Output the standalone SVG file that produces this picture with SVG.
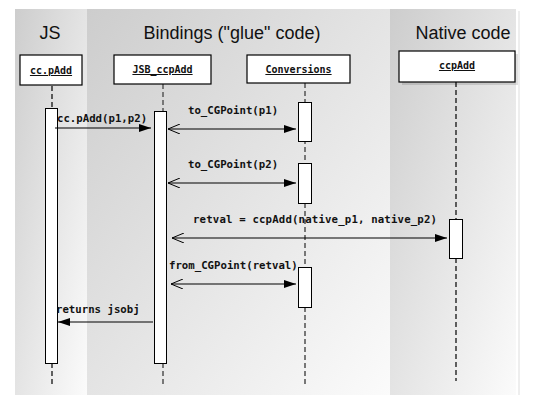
<svg xmlns="http://www.w3.org/2000/svg" width="534" height="404" viewBox="0 0 534 404">
<style>
.title{font-family:"Liberation Sans",Arial,sans-serif;font-size:18px;fill:#111;text-anchor:middle}
.hdr{font-family:"DejaVu Sans Mono",monospace;font-weight:bold;font-size:10px;fill:#111;text-anchor:middle;text-decoration:underline}
.msg{font-family:"DejaVu Sans Mono",monospace;font-weight:bold;font-size:10.7px;fill:#111}
.box{fill:#fff;stroke:#000;stroke-width:1.2}
.act{fill:#fff;stroke:#000;stroke-width:1}
.life{stroke:#000;stroke-width:1.2;stroke-dasharray:5,3;fill:none}
.lifeg{stroke:#777;stroke-width:2;stroke-dasharray:5,3;fill:none}
.line{stroke:#000;stroke-width:1.2;fill:none}
</style>
<defs>
<linearGradient id="g" x1="0" y1="0" x2="1" y2="1">
<stop offset="0" stop-color="#cdcdcd"/>
<stop offset="1" stop-color="#fbfbfb"/>
</linearGradient>
<marker id="fill" viewBox="0 0 12 8" refX="12" refY="4" markerWidth="12" markerHeight="8" markerUnits="userSpaceOnUse" orient="auto">
<path d="M0,0 L12,4 L0,8 Z" fill="#000"/>
</marker>
<marker id="open" viewBox="0 0 12 10" refX="0" refY="5" markerWidth="12" markerHeight="10" markerUnits="userSpaceOnUse" orient="auto">
<path d="M12,0 L0,5 L12,10" fill="none" stroke="#000" stroke-width="1"/>
</marker>
</defs>
<rect width="534" height="404" fill="#fff"/>
<g id="panels">
<rect x="15" y="9" width="72" height="386" fill="url(#g)"/>
<rect x="87" y="9" width="303" height="386" fill="url(#g)"/>
<rect x="518" y="11" width="2" height="384" fill="#eee"/>
<rect x="390" y="9" width="126" height="386" fill="url(#g)"/>
<text class="title" x="50" y="39">JS</text>
<text class="title" x="232" y="39">Bindings ("glue" code)</text>
<text class="title" x="463" y="39">Native code</text>
</g>
<g id="lifelines">
<line class="life" x1="52" y1="86" x2="52" y2="108"/>
<line class="life" x1="52" y1="363" x2="52" y2="386"/>
<line class="lifeg" x1="163" y1="84" x2="163" y2="111"/>
<line class="lifeg" x1="163" y1="363" x2="163" y2="386"/>
<line class="lifeg" x1="305" y1="83" x2="305" y2="384"/>
<line class="life" x1="456" y1="82" x2="456" y2="381"/>
</g>
<g id="ccpAdd_js">
<rect class="box" x="20" y="55" width="62" height="30"/>
<text class="hdr" x="51" y="74">cc.pAdd</text>
<rect class="act" x="45.5" y="108.5" width="12" height="255"/>
</g>
<g id="JSB_ccpAdd">
<rect class="box" x="114" y="55" width="97" height="29"/>
<text class="hdr" x="162.5" y="73">JSB_ccpAdd</text>
<rect class="act" x="154.5" y="111.5" width="12" height="252"/>
</g>
<g id="Conversions">
<rect class="box" x="247" y="55" width="103" height="28"/>
<text class="hdr" x="298.5" y="73">Conversions</text>
<rect class="act" x="298.5" y="102.5" width="13" height="39"/>
<rect class="act" x="298.5" y="163.5" width="13" height="40"/>
<rect class="act" x="298.5" y="267.5" width="13" height="40"/>
</g>
<g id="ccpAdd_native">
<rect x="402" y="54" width="116" height="31" fill="#000" opacity="0.12"/>
<rect class="box" x="399" y="51" width="116" height="31"/>
<text class="hdr" x="457" y="69">ccpAdd</text>
<rect class="act" x="449.5" y="219.5" width="13" height="39"/>
</g>
<g id="connectors">
<line class="line" x1="55" y1="128" x2="151" y2="128" marker-end="url(#fill)"/>
<text class="msg" x="57" y="122">cc.pAdd(p1,p2)</text>
<line class="line" x1="168" y1="129" x2="296" y2="129" marker-start="url(#open)" marker-end="url(#fill)"/>
<text class="msg" x="188" y="114">to_CGPoint(p1)</text>
<line class="line" x1="168" y1="183" x2="296" y2="183" marker-start="url(#open)" marker-end="url(#fill)"/>
<text class="msg" x="188" y="168">to_CGPoint(p2)</text>
<line class="line" x1="172" y1="238" x2="447" y2="238" marker-start="url(#open)" marker-end="url(#fill)"/>
<text class="msg" x="193" y="223" textLength="244">retval = ccpAdd(native_p1, native_p2)</text>
<line class="line" x1="171" y1="284" x2="296" y2="284" marker-start="url(#open)" marker-end="url(#fill)"/>
<text class="msg" x="169" y="269">from_CGPoint(retval)</text>
<line class="line" x1="153" y1="322" x2="58" y2="322" marker-end="url(#fill)"/>
<text class="msg" x="56" y="313">returns jsobj</text>
</g>
</svg>
